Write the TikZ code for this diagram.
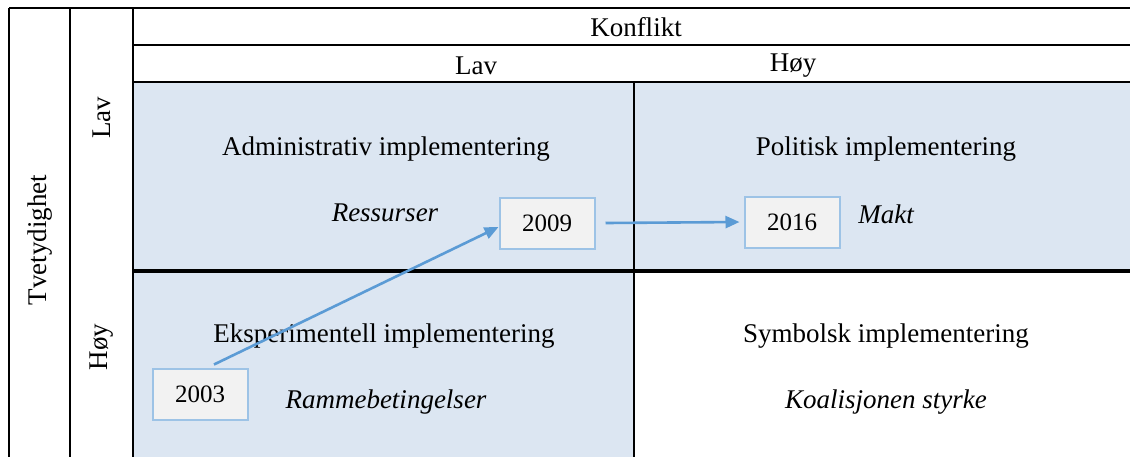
\documentclass[tikz,border=0pt]{standalone}
\usepackage{fontspec}
\setmainfont{Liberation Serif}
\usepackage{xcolor}
\definecolor{cellblue}{HTML}{DCE6F2}
\definecolor{yearfill}{HTML}{F2F2F2}
\definecolor{yearline}{HTML}{9DC3E6}
\definecolor{arrowblue}{HTML}{5B9BD5}
\usetikzlibrary{arrows.meta}

\begin{document}
\begin{tikzpicture}[
          x=0.5pt, y=-0.5pt,
          rule/.style={black, line width=1pt},
          thinrule/.style={black, line width=0.7pt},
          heading/.style={font=\fontsize{13.5}{16}\selectfont, inner sep=0pt},
          factor/.style={font=\fontsize{13.5}{16}\selectfont\itshape, inner sep=0pt},
          year/.style={
              draw=yearline,
              fill=yearfill,
              line width=1pt,
              minimum width=47.5pt,
              minimum height=25.5pt,
              inner sep=0pt,
              font=\fontsize{12.5}{15}\selectfont
            },
          move/.style={-{Triangle[length=7pt, width=6pt]}, arrowblue, line width=1.3pt}
        ]
        \useasboundingbox (0,0) rectangle (1130,457);

        % shaded quadrants
        \fill[cellblue] (133,82) rectangle (634,457);
        \fill[cellblue] (634,82) rectangle (1130,271);

        % table rules
        \draw[thinrule] (9,8) -- (9,457);
        \draw[rule] (9,8) -- (1130,8);
        \draw[rule] (70,8) -- (70,457);
        \draw[rule] (133,8) -- (133,457);
        \draw[thinrule] (133,45) -- (1130,45);
        \draw[rule] (133,82) -- (1130,82);
        \draw[rule] (634,82) -- (634,457);
        \draw[line width=1.6pt] (133,271) -- (1130,271);

        % headings
        \node[heading] (konflikt) at (636,27) {Konflikt};
        \node[heading] (k_lav) at (476,66) {Lav};
        \node[heading] (k_hoy) at (793,66) {Høy};
        \node[heading, rotate=90] (tvetydighet) at (40,240) {Tvetydighet};
        \node[heading, rotate=90] (t_lav) at (102,118) {Lav};
        \node[heading, rotate=90] (t_hoy) at (102,347) {Høy};

        % quadrants
        \node[heading] (admin) at (386,149) {Administrativ implementering};
        \node[factor] (ressurser) at (385,213) {Ressurser};
        \node[heading] (politisk) at (886,149) {Politisk implementering};
        \node[factor] (makt) at (886,214) {Makt};
        \node[heading] (eksp) at (384,336) {Eksperimentell implementering};
        \node[factor] (ramme) at (386,402) {Rammebetingelser};
        \node[heading] (symbolsk) at (886,336) {Symbolsk implementering};
        \node[factor] (koalisjon) at (886,402) {Koalisjonen styrke};

        % years
        \node[year] (y2003) at (200,394) {2003};
        \node[year] (y2009) at (547,223) {2009};
        \node[year] (y2016) at (792,222) {2016};

        \draw[move] ([xshift=7pt, yshift=1.5pt]y2003.north) -- ([yshift=-2pt]y2009.west);
        \draw[move] ([xshift=5pt]y2009.east) -- ([xshift=-2pt]y2016.west);
      \end{tikzpicture}
\end{document}
